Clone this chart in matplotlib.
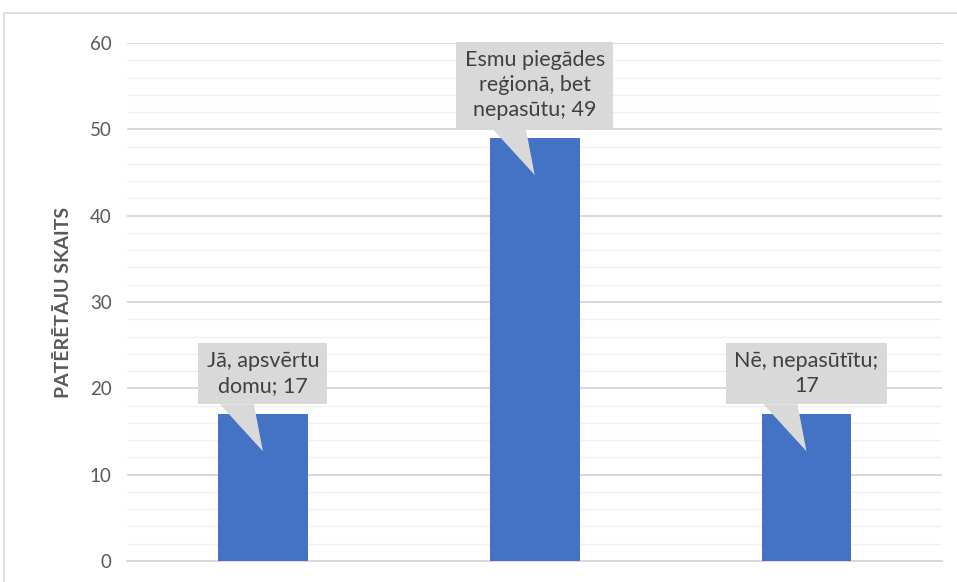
import matplotlib
matplotlib.use("Agg")
import matplotlib.pyplot as plt
from matplotlib.patches import Polygon, Rectangle
from matplotlib.transforms import ScaledTranslation
from matplotlib.ticker import MultipleLocator

plt.rcParams['font.family'] = ['Lato', 'DejaVu Sans']

# Aptaujas dati
labels = ["Jā, apsvērtu\ndomu; 17", "Esmu piegādes\nreģionā, bet\nnepasūtu; 49", "Nē, nepasūtītu;\n17"]
values = [17, 49, 17]
y_ticks = [0, 10, 20, 30, 40, 50, 60]

bar_color = "#4472C4"
grid_major = "#D9D9D9"
grid_minor = "#F0F0F0"
text_grey = "#595959"
callout_bg = "#D9D9D9"

fig = plt.figure(figsize=(9.57, 5.82), dpi=100)
ax = fig.add_axes([0.1327, 0.0361, 0.852, 0.8900])

# rāmis ap diagrammu
fig.patches.append(Rectangle((4 / 957, -0.05), 1.1, 1 - 13 / 582 + 0.05,
                             transform=fig.transFigure, fill=False,
                             edgecolor="#D9D9D9", linewidth=1.2))

x = list(range(len(values)))
ax.bar(x, values, width=0.33, color=bar_color, zorder=3)

ax.set_xlim(-0.5, 2.5)
ax.set_ylim(0, 60)
ax.set_yticks(y_ticks)
ax.yaxis.set_minor_locator(MultipleLocator(2))
ax.grid(axis="y", which="major", color=grid_major, linewidth=1.4, zorder=0)
ax.grid(axis="y", which="minor", color=grid_minor, linewidth=1.0, zorder=0)
ax.set_axisbelow(True)
ax.set_xticks([])
for s in ["top", "right", "left"]:
    ax.spines[s].set_visible(False)
ax.spines["bottom"].set_color(grid_major)
ax.spines["bottom"].set_linewidth(1.4)
ax.tick_params(axis="y", which="both", length=0, pad=11, labelsize=13.5, labelcolor=text_grey)

ax.set_ylabel("PATĒRĒTĀJU SKAITS", fontsize=14, color=text_grey, fontweight="bold", labelpad=13)

# datu etiķetes ar norādēm
for xi, v, lab in zip(x, values, labels):
    ax.annotate(lab, xy=(xi, v), xytext=(0, 18), textcoords="offset pixels",
                ha="center", va="bottom", fontsize=15.5, color="#404040",
                linespacing=1.3, zorder=5,
                bbox=dict(boxstyle="square,pad=0.38", fc=callout_bg, ec="none"))
    tr = fig.dpi_scale_trans + ScaledTranslation(xi, v, ax.transData)
    tri = Polygon([(-0.43, 0.10), (-0.09, 0.10), (0.0, -0.37)], closed=True,
                  transform=tr, facecolor=callout_bg, edgecolor="none", zorder=4)
    ax.add_patch(tri)

fig.savefig("out.png", dpi=100)
